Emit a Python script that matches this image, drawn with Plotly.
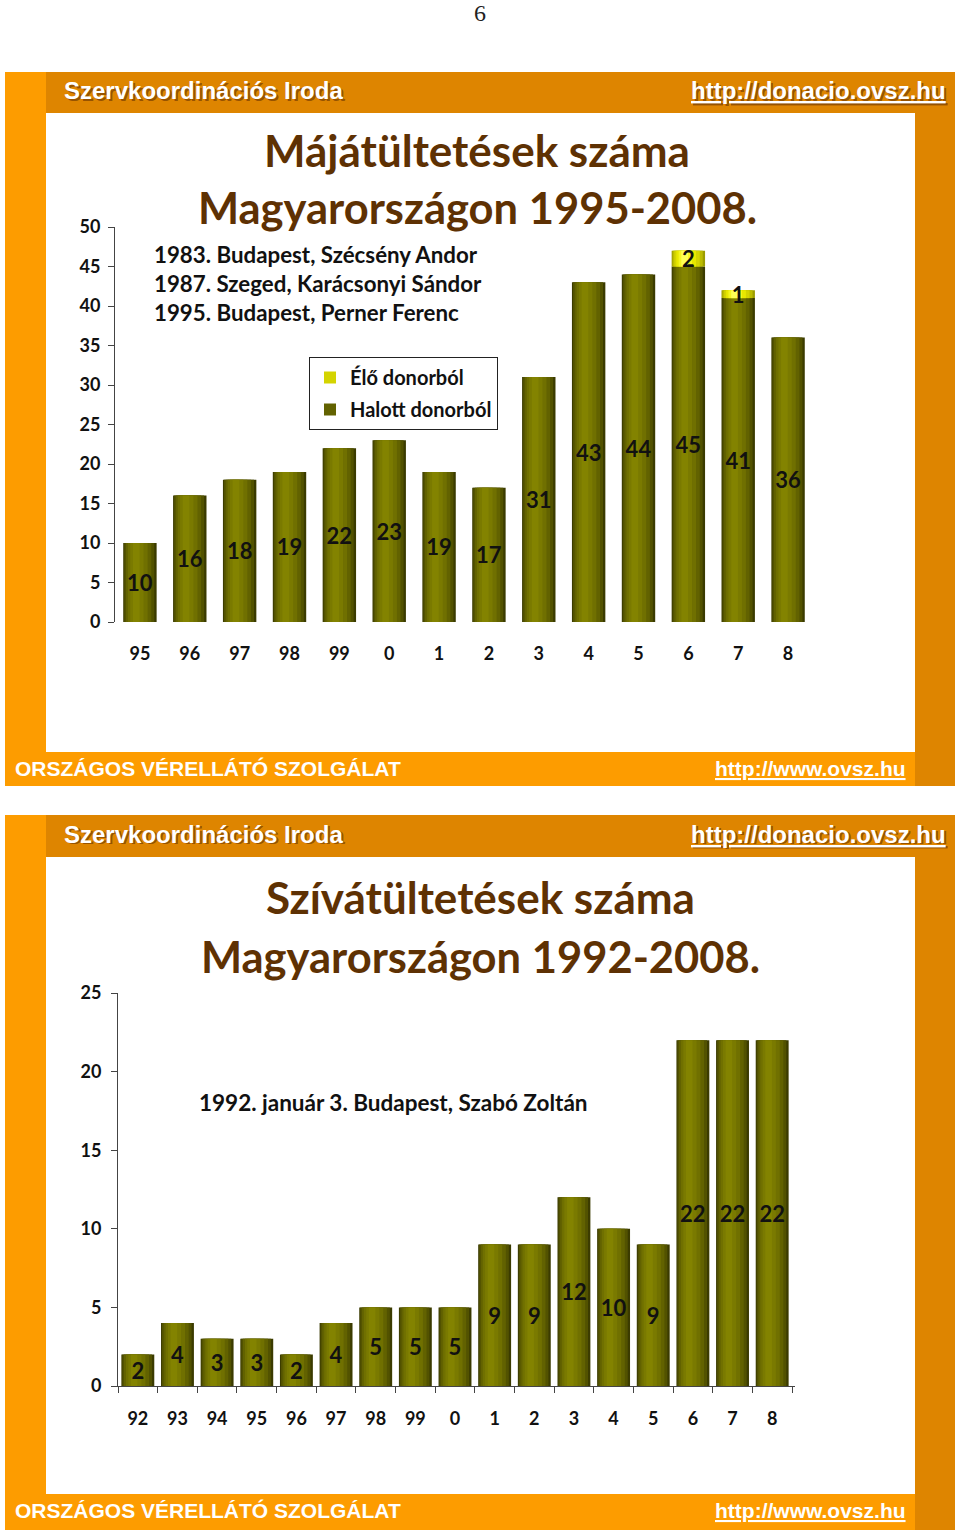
"""Two slides from a PDF page: liver and heart transplants in Hungary."""
import plotly.graph_objects as go

W, H = 960, 1536

# --- data -------------------------------------------------------------
liver_years = ["95", "96", "97", "98", "99", "0", "1", "2", "3", "4", "5", "6", "7", "8"]
liver_dead = [10, 16, 18, 19, 22, 23, 19, 17, 31, 43, 44, 45, 41, 36]
liver_live = [0, 0, 0, 0, 0, 0, 0, 0, 0, 0, 0, 2, 1, 0]

heart_years = ["92", "93", "94", "95", "96", "97", "98", "99",
               "0", "1", "2", "3", "4", "5", "6", "7", "8"]
heart_counts = [2, 4, 3, 3, 2, 4, 5, 5, 5, 9, 9, 12, 10, 9, 22, 22, 22]

liver_notes = ["1983. Budapest, Szécsény Andor",
               "1987. Szeged, Karácsonyi Sándor",
               "1995. Budapest, Perner Ferenc"]
heart_note = "1992. január 3. Budapest, Szabó Zoltán"

# --- style ------------------------------------------------------------
FONT = "Lato"
TITLE_COLOR = "#5e3103"
ORANGE_LIGHT = "#fd9c00"
ORANGE_DARK = "#de8500"

# (left fraction, right fraction, colour) -> banded cylinder shading
OLIVE = [(0.00, 1.00, "#3b3b00"), (0.03, 0.93, "#525200"), (0.08, 0.84, "#626200"),
         (0.14, 0.73, "#707000"), (0.21, 0.61, "#7a7a00"), (0.29, 0.49, "#838300")]
YELLOW = [(0.00, 1.00, "#9c9c00"), (0.03, 0.93, "#bcbc00"), (0.08, 0.84, "#d4d400"),
          (0.14, 0.73, "#e8e800"), (0.21, 0.61, "#f6f620"), (0.29, 0.49, "#ffff55")]


def px(x):
    return x / W


def py(y):
    return 1 - y / H


def add_cylinders(fig, x, y, width, bands, xref, yref, base=None, name=None, rank=1):
    for i, (lf, rf, color) in enumerate(bands):
        fig.add_trace(go.Bar(
            x=x, y=y, base=base,
            width=(rf - lf) * width,
            offset=-width / 2 + lf * width,
            marker=dict(color=color, line=dict(width=0)),
            name=name,
            legendgroup=name,
            showlegend=(name is not None and i == 2),
            legendrank=rank,
            xaxis=xref, yaxis=yref,
            hoverinfo="skip",
        ))


def add_labels(fig, x, y, width, xref, yref, base=None):
    fig.add_trace(go.Bar(
        x=x, y=y, base=base, width=width,
        marker=dict(color="rgba(0,0,0,0)", line=dict(width=0)),
        text=[str(v) if v else "" for v in y],
        textposition="inside", insidetextanchor="middle", constraintext="none",
        textangle=0,
        textfont=dict(family=FONT, size=22, color="#111111", weight="bold"),
        showlegend=False, xaxis=xref, yaxis=yref, hoverinfo="skip",
    ))


fig = go.Figure()

# liver chart
w1 = 0.67
add_cylinders(fig, liver_years, liver_dead, w1, OLIVE, "x", "y", name="Halott donorból", rank=2)
add_cylinders(fig, liver_years, liver_live, w1, YELLOW, "x", "y", base=liver_dead,
              name="Élő donorból", rank=1)
add_labels(fig, liver_years, liver_dead, w1, "x", "y")
add_labels(fig, liver_years, liver_live, w1, "x", "y", base=liver_dead)

# heart chart
w2 = 0.83
add_cylinders(fig, heart_years, heart_counts, w2, OLIVE, "x2", "y2")
add_labels(fig, heart_years, heart_counts, w2, "x2", "y2")

# --- slide frames -----------------------------------------------------
shapes = []


def slide_frame(top, head_bot, foot_top, bottom):
    rects = [
        (5, top, 46, foot_top, ORANGE_LIGHT),
        (46, top, 955, head_bot, ORANGE_DARK),
        (915, head_bot, 955, bottom, ORANGE_DARK),
        (5, foot_top, 915, bottom, ORANGE_LIGHT),
    ]
    for x0, y0, x1, y1, c in rects:
        shapes.append(dict(type="rect", xref="paper", yref="paper",
                           x0=px(x0), x1=px(x1), y0=py(y1), y1=py(y0),
                           fillcolor=c, line=dict(width=0), layer="below"))


slide_frame(72, 113, 752, 786)
slide_frame(815, 857, 1494, 1530)

ann = []


def text(x, y, s, size, color="#111111", family=FONT, anchor="left", bold=True, shadow=False):
    if shadow:
        ann.append(dict(x=px(x + 1.5), y=py(y + 1.5), xref="paper", yref="paper", text=s,
                        showarrow=False, xanchor=anchor, yanchor="middle",
                        font=dict(family=family, size=size, color="rgba(90,40,0,0.55)",
                                  weight="bold" if bold else "normal")))
    ann.append(dict(x=px(x), y=py(y), xref="paper", yref="paper", text=s,
                    showarrow=False, xanchor=anchor, yanchor="middle",
                    font=dict(family=family, size=size, color=color,
                              weight="bold" if bold else "normal")))


text(480, 13, "6", 24, color="#222222", family="Liberation Serif", anchor="center", bold=False)

for top, foot in [(91, 768), (834, 1510)]:
    text(62, top, "Szervkoordinációs Iroda", 24, color="white",
         family="Liberation Sans", shadow=True)
    text(948, top, "<u>http://donacio.ovsz.hu</u>", 24, color="white",
         family="Liberation Sans", anchor="right", shadow=True)
    text(13, foot, "ORSZÁGOS VÉRELLÁTÓ SZOLGÁLAT", 21, color="white",
         family="Liberation Sans Narrow, Liberation Sans")
    text(908, foot, "<u>http://www.ovsz.hu</u>", 21, color="white",
         family="Liberation Sans Narrow, Liberation Sans", anchor="right")

# titles
text(477, 150, "Májátültetések száma", 44, color=TITLE_COLOR, anchor="center")
text(477, 207, "Magyarországon 1995-2008.", 43.5, color=TITLE_COLOR, anchor="center")
text(480, 897, "Szívátültetések száma", 44, color=TITLE_COLOR, anchor="center")
text(480, 956, "Magyarországon 1992-2008.", 43.5, color=TITLE_COLOR, anchor="center")

for i, line in enumerate(liver_notes):
    text(152, 254 + i * 29.5, line, 22.3)
text(197, 1102, heart_note, 22.5)

axis_font = dict(family=FONT, size=18, color="#111111", weight="bold")
line_col = "#444444"

fig.update_layout(
    width=W, height=H,
    margin=dict(l=0, r=0, t=0, b=0, autoexpand=False),
    paper_bgcolor="white", plot_bgcolor="rgba(0,0,0,0)",
    barmode="overlay",
    hovermode=False,
    shapes=shapes,
    annotations=ann,
    xaxis=dict(domain=[px(115), px(813)], range=[-0.5, 13.5], type="category",
               showline=False, ticks="", showgrid=False, zeroline=False,
               tickfont=axis_font, ticklabelstandoff=19, anchor="y", automargin=False),
    yaxis=dict(domain=[py(622), py(227)], range=[0, 50], dtick=5,
               showline=True, linecolor=line_col, linewidth=1,
               ticks="outside", ticklen=6, tickcolor=line_col,
               showgrid=False, zeroline=False, tickfont=axis_font,
               ticklabelstandoff=4, anchor="x", automargin=False),
    xaxis2=dict(domain=[px(118), px(795)], range=[-0.5, 16.5 + 3 / 39.6], type="category",
                showline=True, linecolor=line_col, linewidth=1,
                ticks="outside", tickson="boundaries", ticklen=6, tickcolor=line_col,
                showgrid=False, zeroline=False, tickfont=axis_font,
                ticklabelstandoff=16, anchor="y2", automargin=False),
    yaxis2=dict(domain=[py(1386), py(993)], range=[0, 25], dtick=5,
                showline=True, linecolor=line_col, linewidth=1,
                ticks="outside", ticklen=6, tickcolor=line_col,
                showgrid=False, zeroline=False, tickfont=axis_font,
                ticklabelstandoff=6, anchor="x2", automargin=False),
    legend=dict(x=px(309), y=py(357), xanchor="left", yanchor="top",
                bgcolor="white", bordercolor="#222222", borderwidth=1,
                font=dict(family=FONT, size=20, color="#111111", weight="bold"),
                traceorder="grouped", tracegroupgap=3),
)

# the page should start at the window's corner, like the scanned page
fig.write_html("out.html", config={"displayModeBar": False},
               post_script="document.body.style.margin = '0';")
